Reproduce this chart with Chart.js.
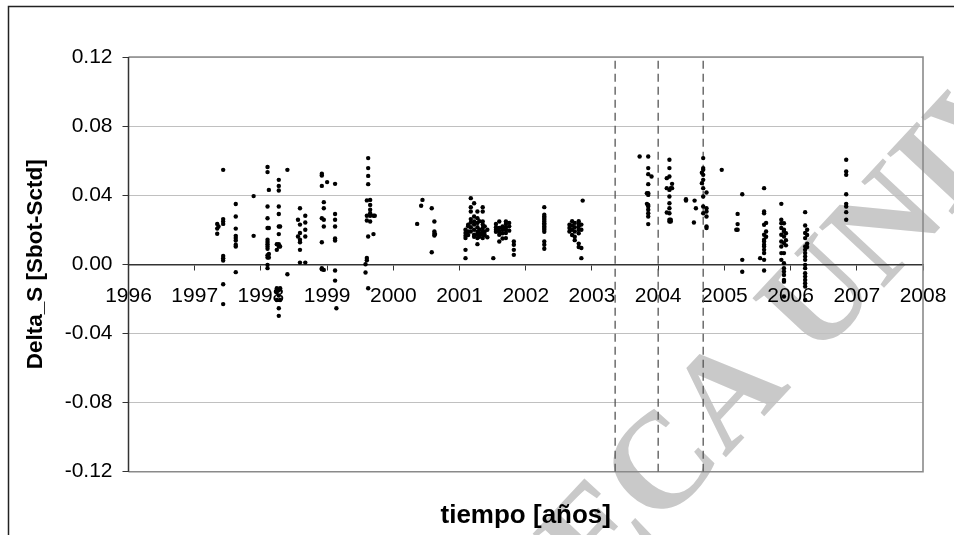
<!DOCTYPE html>
<html>
<head>
<meta charset="utf-8">
<title>Delta_S</title>
<script src="https://cdn.jsdelivr.net/npm/chart.js@4.4.1/dist/chart.umd.min.js"></script>
<style>
  html, body { margin: 0; padding: 0; background: #fff; }
  #wrap { width: 954px; height: 535px; }
</style>
</head>
<body>
<div id="wrap"><canvas id="chartDelta" width="954" height="535"></canvas></div>
<script>
(function () {
    'use strict';

    // ── Axes ────────────────────────────────────────────────────
    const yearTicks  = [1996, 1997, 1998, 1999, 2000, 2001, 2002, 2003, 2004, 2005, 2006, 2007, 2008];
    const deltaTicks = [-0.12, -0.08, -0.04, 0, 0.04, 0.08, 0.12];

    // dashed reference dates
    const eventYears = [2003.35, 2004.0, 2004.68];

    // ── Samples: one column of Delta_S values per campaign date ─
    const sampleYears = [
        1997.34, 1997.36, 1997.43, 1997.62, 1997.89,
        1998.10, 1998.12, 1998.24, 1998.27, 1998.29, 1998.40,
        1998.56, 1998.59, 1998.67, 1998.92, 1998.95, 1999.00,
        1999.12, 1999.14, 1999.58, 1999.60, 1999.62, 1999.65, 1999.70, 1999.72,
        2000.36, 2000.42, 2000.44, 2000.58, 2000.62, 2000.63,
        2001.09, 2001.13, 2001.17, 2001.22, 2001.27, 2001.30, 2001.35, 2001.38, 2001.42,
        2001.51, 2001.55, 2001.60, 2001.65, 2001.70, 2001.75, 2001.82,
        2002.28,
        2002.66, 2002.70, 2002.74, 2002.80, 2002.84, 2002.86,
        2003.72, 2003.83, 2003.85, 2003.90,
        2004.13, 2004.17, 2004.19, 2004.21, 2004.42, 2004.54, 2004.55, 2004.57,
        2004.66, 2004.68, 2004.73, 2004.96,
        2005.18, 2005.20, 2005.27, 2005.54, 2005.60, 2005.63,
        2005.86, 2005.90, 2005.93, 2006.22, 2006.25, 2006.84,
    ];

    const sampleDelta = [
        [0.0234, 0.0207, 0.0177],
        [0.0219],
        [0.0547, 0.0262, 0.0248, 0.0234, 0.0049, 0.0036, 0.0022, -0.0115, -0.0230],
        [0.0349, 0.0277, 0.0207, 0.0165, 0.0153, 0.0138, 0.0113, 0.0103, -0.0045],
        [0.0395, 0.0165],
        [0.0563, 0.0534, 0.0335, 0.0267, 0.0210, 0.0142, 0.0130, 0.0117, 0.0103, 0.0090, 0.0053, 0.0039, -0.0003, -0.0022],
        [0.0431, 0.0210, 0.0060, 0.0040],
        [0.0084, 0.0117, -0.0138, -0.0160, -0.0206],
        [0.0489, 0.0454, 0.0427, 0.0335, 0.0291, 0.0219, 0.0175, 0.0117, 0.0103, -0.0150, -0.0180, -0.0254, -0.0298],
        [0.0219, 0.0103, -0.0138, -0.0206],
        [0.0547, -0.0057],
        [0.0258, 0.0161],
        [0.0325, 0.0230, 0.0181, 0.0142, 0.0128, 0.0084, 0.0010],
        [0.0281, 0.0242, 0.0200, 0.0161, 0.0010],
        [0.0524, 0.0514, 0.0454, 0.0267, 0.0128, -0.0022, -0.0028],
        [0.0360, 0.0325, 0.0258, 0.0219, -0.0032],
        [0.0476],
        [0.0466, 0.0291, 0.0258, 0.0219, 0.0150, 0.0138, -0.0036, -0.0094],
        [-0.0254],
        [-0.0047, 0.0001],
        [0.0370, 0.0281, 0.0254, 0.0024, 0.0037],
        [0.0615, 0.0557, 0.0512, 0.0464, 0.0161, -0.0138],
        [0.0373, 0.0344, 0.0316, 0.0296, 0.0248, 0.0281],
        [0.0281, 0.0175],
        [0.0281],
        [0.0234],
        [0.0339],
        [0.0373],
        [0.0325, 0.0070],
        [0.0248, 0.0190, 0.0177, 0.0167],
        [0.0175],
        [0.0200, 0.0181, 0.0165, 0.0152, 0.0084, 0.0036],
        [0.0229, 0.0220, 0.0190, 0.0170],
        [0.0383, 0.0331, 0.0306, 0.0262, 0.0242, 0.0215, 0.0190],
        [0.0354, 0.0277, 0.0248, 0.0230, 0.0200, 0.0171, 0.0160],
        [0.0306, 0.0267, 0.0240, 0.0215, 0.0189, 0.0171, 0.0152, 0.0117],
        [0.0250, 0.0200, 0.0180, 0.0160],
        [0.0331, 0.0306, 0.0248, 0.0230, 0.0210, 0.0189, 0.0171, 0.0152],
        [0.0220, 0.0190, 0.0170],
        [0.0157, 0.0200],
        [0.0036],
        [0.0234, 0.0215, 0.0200, 0.0189],
        [0.0248, 0.0210, 0.0189, 0.0171, 0.0132],
        [0.0220, 0.0200, 0.0180, 0.0150],
        [0.0248, 0.0234, 0.0215, 0.0200, 0.0181, 0.0152],
        [0.0240, 0.0220, 0.0195],
        [0.0132, 0.0113, 0.0084, 0.0055],
        [0.0331, 0.0287, 0.0277, 0.0268, 0.0258, 0.0248, 0.0238, 0.0229, 0.0219, 0.0210, 0.0200, 0.0189, 0.0132, 0.0113, 0.0090],
        [0.0229, 0.0210, 0.0190],
        [0.0250, 0.0225, 0.0200, 0.0170],
        [0.0240, 0.0215, 0.0190, 0.0160, 0.0140],
        [0.0250, 0.0235, 0.0220, 0.0200, 0.0180, 0.0120, 0.0100],
        [0.0230, 0.0200, 0.0095, 0.0036],
        [0.0369],
        [0.0624],
        [0.0412, 0.0350],
        [0.0624, 0.0557, 0.0522, 0.0464, 0.0412, 0.0402, 0.0344, 0.0335, 0.0316, 0.0296, 0.0277, 0.0233],
        [0.0508],
        [0.0441, 0.0499, 0.0300],
        [0.0605, 0.0557, 0.0508, 0.0431, 0.0393, 0.0354, 0.0325, 0.0296, 0.0258, 0.0248],
        [0.0441, 0.0258, 0.0248],
        [0.0466, 0.0441],
        [0.0377, 0.0369],
        [0.0242],
        [0.0369],
        [0.0325],
        [0.0530, 0.0470],
        [0.0615, 0.0557, 0.0547, 0.0518, 0.0489, 0.0441, 0.0393, 0.0335, 0.0296],
        [0.0416, 0.0325, 0.0306, 0.0277, 0.0219, 0.0210],
        [0.0547],
        [0.0200],
        [0.0292, 0.0233, 0.0200],
        [0.0406, 0.0026, -0.0043],
        [0.0036],
        [0.0441, 0.0306, 0.0296, 0.0229, 0.0171, 0.0142, 0.0132, 0.0113, 0.0103, 0.0084, 0.0065, 0.0026, -0.0036],
        [0.0240, 0.0190, 0.0160],
        [0.0350, 0.0258, 0.0238, 0.0210, 0.0171, 0.0132, 0.0103, 0.0065, 0.0026],
        [0.0238, 0.0200, 0.0190, 0.0161, 0.0123, 0.0065, 0.0007, -0.0022, -0.0042, -0.0061, -0.0090, -0.0100, -0.0186],
        [0.0180, 0.0140, 0.0110],
        [0.0302, 0.0225, 0.0181, 0.0152, 0.0103, 0.0084, 0.0065, 0.0045, 0.0026, -0.0003, -0.0022, -0.0051, -0.0071, -0.0090, -0.0109, -0.0128, -0.0206],
        [0.0200, 0.0170, 0.0120, 0.0100],
        [0.0605, 0.0537, 0.0518, 0.0406, 0.0350, 0.0335, 0.0302, 0.0258],
    ];

    const SANS  = '"Liberation Sans", Arial, sans-serif';
    const SERIF = '"Liberation Serif", "Times New Roman", serif';

    // ── Datasets ────────────────────────────────────────────────
    const points = [];
    sampleYears.forEach((yr, i) => {
        sampleDelta[i].forEach(v => points.push({ x: yr, y: v }));
    });

    const eventSets = eventYears.map(yr => ({
        type: 'line',
        data: [{ x: yr, y: deltaTicks[0] }, { x: yr, y: deltaTicks[deltaTicks.length - 1] }],
        borderColor: '#555',
        borderWidth: 1.3,
        borderDash: [8, 5],
        pointRadius: 0,
        fill: false,
        order: 2,
    }));

    // ── Plugins: sheet watermark, plot frame, outer border ─────
    const sheetDecor = {
        id: 'sheetDecor',
        beforeDraw(chart) {
            const ctx = chart.ctx;
            ctx.save();
            ctx.fillStyle = '#fff';
            ctx.fillRect(0, 0, chart.width, chart.height);
            ctx.font = 'bold 136px ' + SERIF;
            ctx.fillStyle = '#c9c9c9';
            ctx.textBaseline = 'alphabetic';
            ctx.translate(658, 530);
            ctx.rotate(-47 * Math.PI / 180);
            const lead = ctx.measureText('BIBLIOTE').width;
            ctx.fillText('BIBLIOTECA UNIVERSITARIA', -lead, 0);
            ctx.restore();
        },
        beforeDatasetsDraw(chart) {
            const { ctx, chartArea: a } = chart;
            ctx.save();
            ctx.strokeStyle = '#8a8a8a';
            ctx.lineWidth = 1.6;
            ctx.beginPath();
            ctx.moveTo(a.left, a.top);
            ctx.lineTo(a.right, a.top);
            ctx.lineTo(a.right, a.bottom);
            ctx.lineTo(a.left, a.bottom);
            ctx.stroke();
            ctx.strokeStyle = '#333';
            ctx.lineWidth = 1.5;
            ctx.beginPath();
            ctx.moveTo(a.left, a.top);
            ctx.lineTo(a.left, a.bottom);
            ctx.stroke();
            ctx.restore();
        },
        afterDraw(chart) {
            const ctx = chart.ctx;
            ctx.save();
            ctx.strokeStyle = '#222';
            ctx.lineWidth = 1.5;
            ctx.beginPath();
            ctx.moveTo(8.5, chart.height);
            ctx.lineTo(8.5, 6.5);
            ctx.lineTo(chart.width, 6.5);
            ctx.stroke();
            ctx.restore();
        },
    };

    // ── Chart ───────────────────────────────────────────────────
    new Chart(document.getElementById('chartDelta'), {
        type: 'scatter',
        data: {
            datasets: [{
                data: points,
                backgroundColor: '#000',
                borderWidth: 0,
                pointRadius: 2.2,
                pointHoverRadius: 2.2,
                order: 1,
            }].concat(eventSets),
        },
        options: {
            responsive: false,
            animation: false,
            events: [],
            layout: { padding: { left: 12, top: 57, right: 31, bottom: 0 } },
            plugins: {
                legend: { display: false },
                tooltip: { enabled: false },
                title: {
                    display: true,
                    position: 'bottom',
                    fullSize: false,
                    text: 'tiempo [años]',
                    color: '#000',
                    font: { family: SANS, size: 26, weight: 'bold' },
                    padding: { top: 28.7, bottom: 3.4 },
                },
            },
            scales: {
                x: {
                    type: 'linear',
                    position: { y: 0 },
                    min: yearTicks[0],
                    max: yearTicks[yearTicks.length - 1],
                    afterBuildTicks: s => { s.ticks = yearTicks.map(v => ({ value: v })); },
                    afterFit: s => { s.paddingLeft = 0; s.paddingRight = 0; },
                    grid: {
                        drawOnChartArea: false,
                        drawTicks: true,
                        tickLength: 5,
                        tickColor: '#333',
                    },
                    border: { display: true, color: '#333', width: 1.5 },
                    ticks: {
                        color: '#000',
                        padding: 14,
                        maxRotation: 0,
                        autoSkip: false,
                        font: { family: SANS, size: 21 },
                        callback: v => String(v),
                    },
                },
                y: {
                    type: 'linear',
                    position: 'left',
                    min: deltaTicks[0],
                    max: deltaTicks[deltaTicks.length - 1],
                    afterBuildTicks: s => { s.ticks = deltaTicks.map(v => ({ value: v })); },
                    afterFit: s => { s.width = 116.5; },
                    grid: {
                        color: '#c0c0c0',
                        lineWidth: 1,
                        tickLength: 6,
                        tickColor: '#333',
                    },
                    border: { display: false },
                    ticks: {
                        color: '#000',
                        padding: 10,
                        autoSkip: false,
                        font: { family: SANS, size: 21 },
                        callback: v => v.toFixed(2),
                    },
                    title: {
                        display: true,
                        text: 'Delta_S [Sbot-Sctd]',
                        color: '#000',
                        font: { family: SANS, size: 22.5, weight: 'bold' },
                        padding: { top: 10, bottom: 0 },
                    },
                },
            },
        },
        plugins: [sheetDecor],
    });
})();
</script>
</body>
</html>
